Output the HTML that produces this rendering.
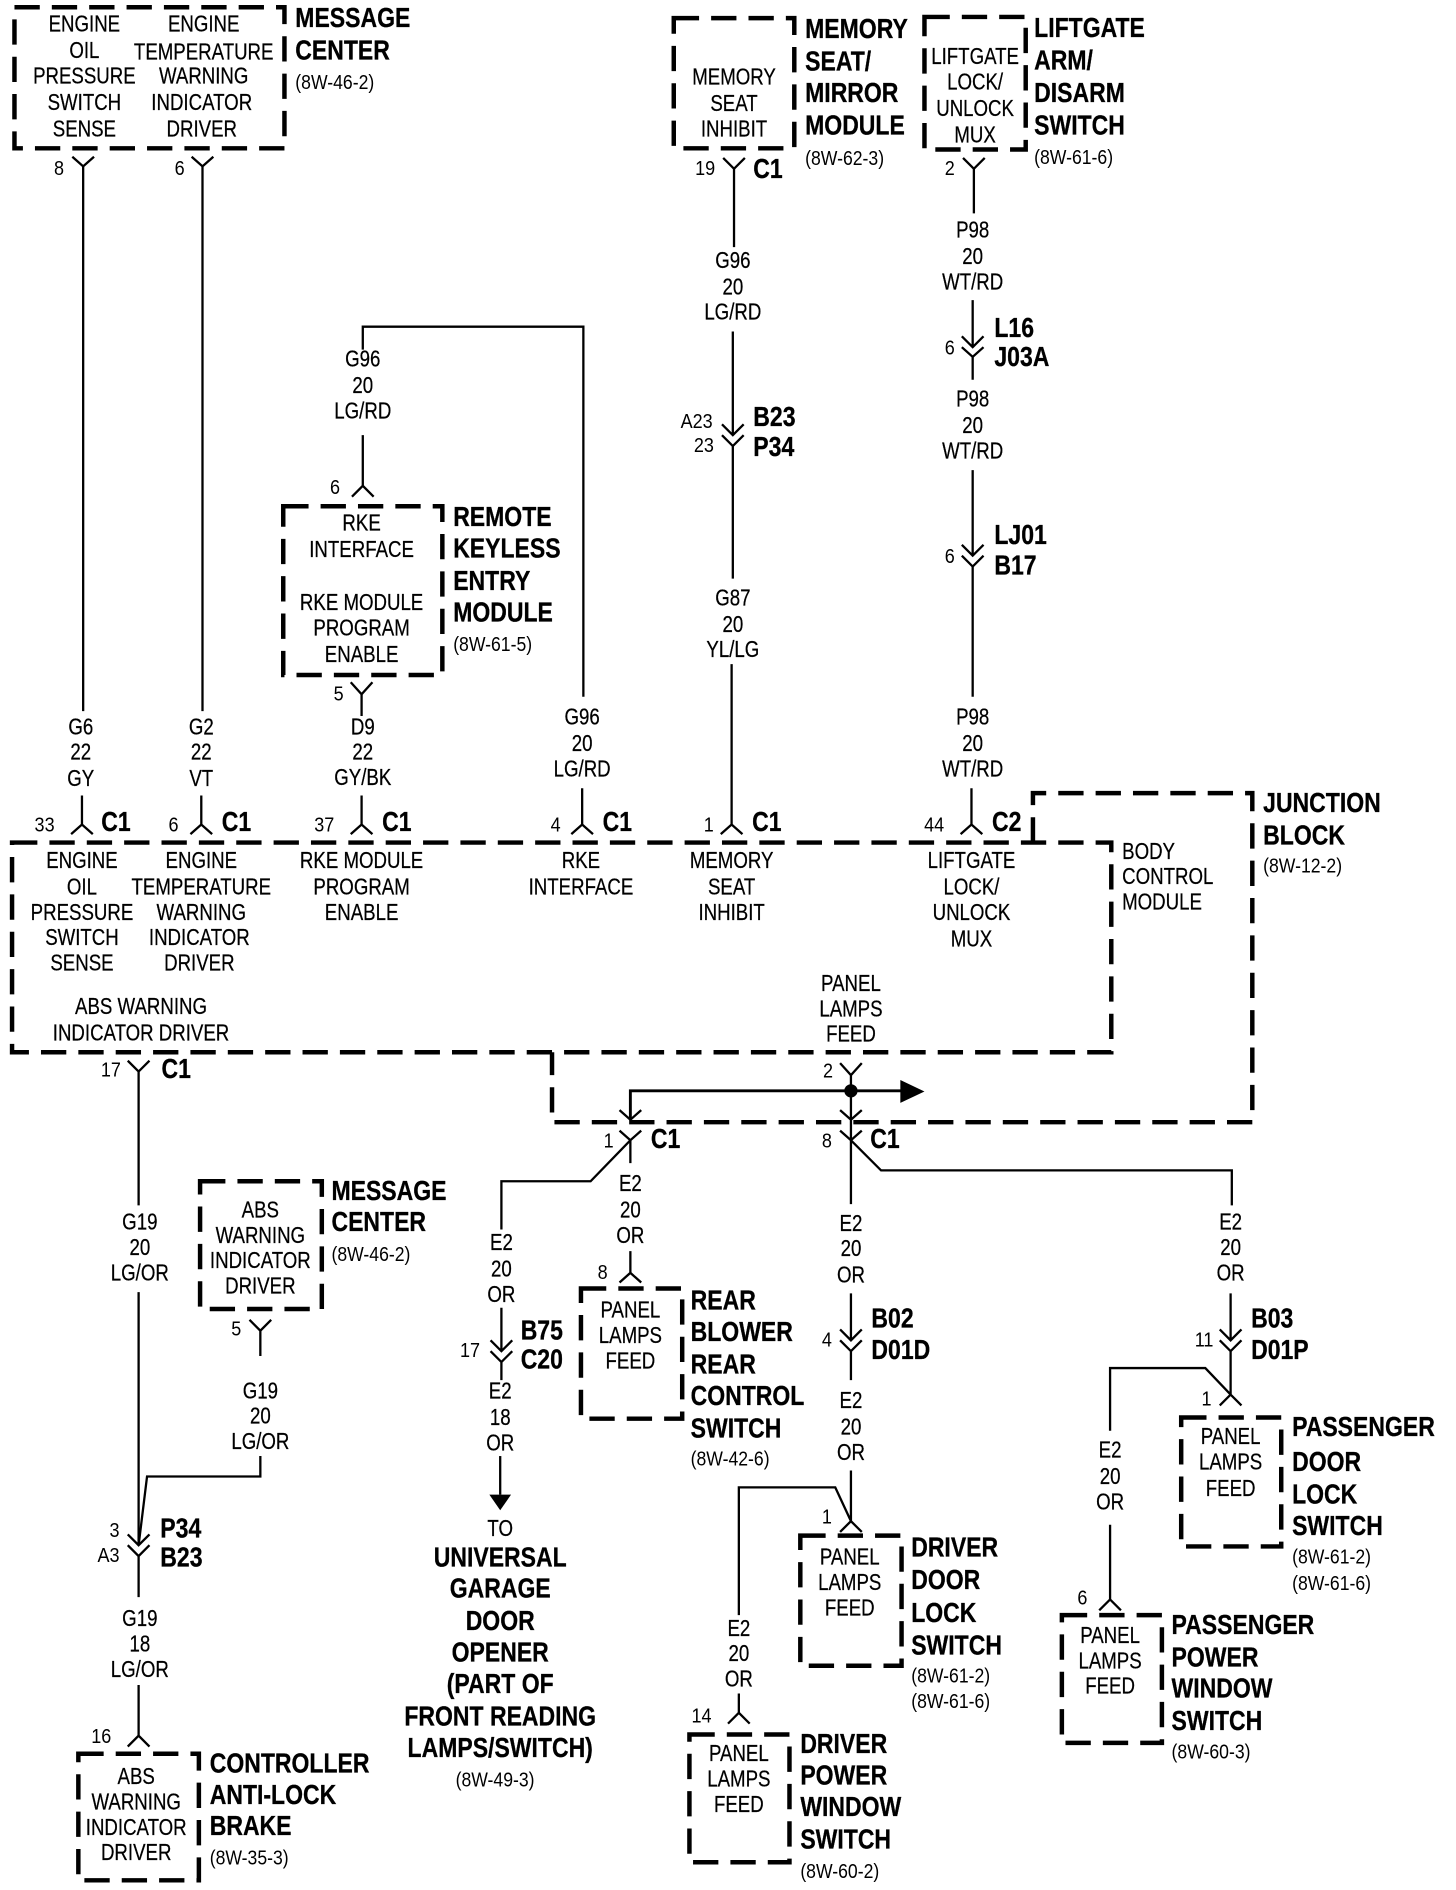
<!DOCTYPE html>
<html><head><meta charset="utf-8"><title>Wiring diagram</title>
<style>
html,body{margin:0;padding:0;background:#fff}
svg{display:block}
text{font-family:"Liberation Sans",sans-serif;fill:#000}
.r text{font-size:19px;text-anchor:middle;stroke:#000;stroke-width:.2;transform:translateY(-.8px)}
.l text{font-size:19px;text-anchor:start;stroke:#000;stroke-width:.2;transform:translateY(-.5px)}
.b text{font-size:23px;font-weight:bold;text-anchor:start;stroke:#000;stroke-width:.25;transform:translateY(-1.5px)}
.bc text{font-size:23px;font-weight:bold;text-anchor:middle;stroke:#000;stroke-width:.25;transform:translateY(-1.5px)}
.s text{font-size:17px;text-anchor:start}
.sc text{font-size:17px;text-anchor:middle;transform-box:fill-box;transform-origin:center;transform:scaleX(.88)}
.d{fill:none;stroke:#000;stroke-width:3.7;stroke-dasharray:21 10}
.w{fill:none;stroke:#000;stroke-width:1.9}
</style></head><body>
<svg xmlns="http://www.w3.org/2000/svg" width="1456" height="1890" viewBox="0 0 1208 1568">
<rect width="1208" height="1568" fill="#fff"/>

<!-- dashed boxes -->
<path class="d" d="M12 6H236V123H12Z"/>
<path class="d" d="M559 15H659V123H559Z"/>
<path class="d" d="M767 14H851V124H767Z"/>
<path class="d" d="M235 420H367V560H235Z"/>
<path class="d" d="M10 699H922V873H10Z"/>
<path class="d" d="M857 699V658H1039V931H458V873"/>
<path class="d" d="M166 980H267V1086H166Z"/>
<path class="d" d="M482 1069H566V1177H482Z"/>
<path class="d" d="M664 1274H748V1382H664Z"/>
<path class="d" d="M980 1176H1063V1283H980Z"/>
<path class="d" d="M881 1340H964V1446H881Z"/>
<path class="d" d="M572 1439H655V1545H572Z"/>
<path class="d" d="M65 1455H165V1560H65Z"/>

<!-- wires and connector marks -->
<g class="w">
<path d="M69 138V590M60 130l9 8 9-8"/>
<path d="M168 138V590M159 130l9 8 9-8"/>
<path d="M68 660V684M59 692l9-8 9 8"/>
<path d="M167 660V684M158 692l9-8 9 8"/>
<path d="M300 660V684M291 692l9-8 9 8"/>
<path d="M483 654V684M474 692l9-8 9 8"/>
<path d="M607 551V684M598 692l9-8 9 8"/>
<path d="M806 654V684M797 692l9-8 9 8"/>
<path d="M301 290V271H484V578"/>
<path d="M301 361V403M292 412l9-9 9 9"/>
<path d="M300 576V594M291 566l9 10 9-10"/>
<path d="M609 140V205M600 131l9 9 9-9"/>
<path d="M608 275V361M599 352l9 9 9-9M599 361l9 9 9-9M608 370V480"/>
<path d="M808 140V177M799 131l9 9 9-9"/>
<path d="M807 249V288M798 279l9 9 9-9M798 288l9 8 9-8M807 296V315"/>
<path d="M807 390V461M798 452l9 9 9-9M798 461l9 9 9-9M807 470V578"/>
<path d="M115 889V1000M106 880l9 9 9-9"/>
<path d="M115 1072V1282M106 1273l9 9 9-9M106 1282l9 9 9-9M115 1291V1325"/>
<path d="M216 1104V1125M207 1095l9 9 9-9"/>
<path d="M216 1208V1225H122L115 1282"/>
<path d="M115 1398V1440M106 1449l9-9 9 9"/>
<path d="M706 892V946M697 882l9 10 9-10M697 921l9 8 9-8"/>
<path d="M523 929V905H750" style="stroke-width:2.4"/>
<path d="M514 921l9 8 9-8"/>
<path d="M514 938l9 8 9-8M523 946V965M523 946L490 980H416V1020"/>
<path d="M697 938l9 8 9-8M706 946V999M706 946L731 971H1022V1000"/>
<path d="M523 1038V1056M514 1064l9-8 9 8"/>
<path d="M416 1085V1121M407 1112l9 9 9-9M407 1121l9 9 9-9M416 1130V1145"/>
<path d="M415 1208V1240"/>
<path d="M706 1073V1112M697 1103l9 9 9-9M697 1112l9 9 9-9M706 1121V1145"/>
<path d="M706 1220V1262M697 1271l9-9 9 9M706 1262L693 1234H613V1340"/>
<path d="M613 1405V1421M604 1430l9-9 9 9"/>
<path d="M1021 1073V1112M1012 1103l9 9 9-9M1012 1112l9 9 9-9M1021 1121V1157M1012 1166l9-9 9 9M1021 1157L1000 1135H921V1187"/>
<path d="M921 1265V1327M912 1336l9-9 9 9"/>
</g>
<circle cx="706" cy="905" r="5.5"/>
<path d="M747 896L767 905.500 747 915Z"/>
<path d="M406 1240H424L415 1253Z"/>

<!-- box and module text -->
<g class="r" transform="translate(70,0) scale(.815,1)"><text y="27">ENGINE</text><text y="49">OIL</text><text y="70">PRESSURE</text><text y="92">SWITCH</text><text y="114">SENSE</text></g>
<g class="r" transform="translate(169,0) scale(.815,1)"><text y="27">ENGINE</text><text y="50">TEMPERATURE</text><text y="70">WARNING</text><text x="-2" y="92">INDICATOR</text><text x="-2" y="114">DRIVER</text></g>
<g class="r" transform="translate(609,0) scale(.815,1)"><text y="71">MEMORY</text><text y="93">SEAT</text><text y="114">INHIBIT</text></g>
<g class="r" transform="translate(809,0) scale(.815,1)"><text y="54">LIFTGATE</text><text y="75">LOCK/</text><text y="97">UNLOCK</text><text y="119">MUX</text></g>
<g class="r" transform="translate(300,0) scale(.815,1)"><text y="441">RKE</text><text y="463">INTERFACE</text><text y="507">RKE MODULE</text><text y="528">PROGRAM</text><text y="550">ENABLE</text></g>
<g class="r" transform="translate(68,0) scale(.815,1)"><text y="721">ENGINE</text><text y="743">OIL</text><text y="764">PRESSURE</text><text y="785">SWITCH</text><text y="806">SENSE</text></g>
<g class="r" transform="translate(167,0) scale(.815,1)"><text y="721">ENGINE</text><text y="743">TEMPERATURE</text><text y="764">WARNING</text><text x="-2" y="785">INDICATOR</text><text x="-2" y="806">DRIVER</text></g>
<g class="r" transform="translate(300,0) scale(.815,1)"><text y="721">RKE MODULE</text><text y="743">PROGRAM</text><text y="764">ENABLE</text></g>
<g class="r" transform="translate(482,0) scale(.815,1)"><text y="721">RKE</text><text y="743">INTERFACE</text></g>
<g class="r" transform="translate(607,0) scale(.815,1)"><text y="721">MEMORY</text><text y="743">SEAT</text><text y="764">INHIBIT</text></g>
<g class="r" transform="translate(806,0) scale(.815,1)"><text y="721">LIFTGATE</text><text y="743">LOCK/</text><text y="764">UNLOCK</text><text y="786">MUX</text></g>
<g class="r" transform="translate(117,0) scale(.815,1)"><text y="842">ABS WARNING</text><text y="864">INDICATOR DRIVER</text></g>
<g class="r" transform="translate(706,0) scale(.815,1)"><text y="823">PANEL</text><text y="844">LAMPS</text><text y="865">FEED</text></g>
<g class="l" transform="translate(931,0) scale(.815,1)"><text y="713">BODY</text><text y="734">CONTROL</text><text y="755">MODULE</text></g>
<g class="r" transform="translate(216,0) scale(.815,1)"><text y="1011">ABS</text><text y="1032">WARNING</text><text y="1053">INDICATOR</text><text y="1074">DRIVER</text></g>
<g class="r" transform="translate(113,0) scale(.815,1)"><text y="1481">ABS</text><text y="1502">WARNING</text><text y="1523">INDICATOR</text><text y="1544">DRIVER</text></g>
<g class="r" transform="translate(523,0) scale(.815,1)"><text y="1094">PANEL</text><text y="1115">LAMPS</text><text y="1136">FEED</text></g>
<g class="r" transform="translate(705,0) scale(.815,1)"><text y="1299">PANEL</text><text y="1320">LAMPS</text><text y="1341">FEED</text></g>
<g class="r" transform="translate(1021,0) scale(.815,1)"><text y="1199">PANEL</text><text y="1220">LAMPS</text><text y="1242">FEED</text></g>
<g class="r" transform="translate(921,0) scale(.815,1)"><text y="1364">PANEL</text><text y="1385">LAMPS</text><text y="1406">FEED</text></g>
<g class="r" transform="translate(613,0) scale(.815,1)"><text y="1462">PANEL</text><text y="1483">LAMPS</text><text y="1504">FEED</text></g>

<!-- wire labels -->
<g class="r" transform="translate(67,0) scale(.815,1)"><text y="610">G6</text><text y="631">22</text><text y="653">GY</text></g>
<g class="r" transform="translate(167,0) scale(.815,1)"><text y="610">G2</text><text y="631">22</text><text y="653">VT</text></g>
<g class="r" transform="translate(301,0) scale(.815,1)"><text y="610">D9</text><text y="631">22</text><text y="652">GY/BK</text></g>
<g class="r" transform="translate(483,0) scale(.815,1)"><text y="602">G96</text><text y="624">20</text><text y="645">LG/RD</text></g>
<g class="r" transform="translate(301,0) scale(.815,1)"><text y="305">G96</text><text y="327">20</text><text y="348">LG/RD</text></g>
<g class="r" transform="translate(608,0) scale(.815,1)"><text y="223">G96</text><text y="245">20</text><text y="266">LG/RD</text></g>
<g class="r" transform="translate(608,0) scale(.815,1)"><text y="503">G87</text><text y="525">20</text><text y="546">YL/LG</text></g>
<g class="r" transform="translate(807,0) scale(.815,1)"><text y="198">P98</text><text y="220">20</text><text y="241">WT/RD</text></g>
<g class="r" transform="translate(807,0) scale(.815,1)"><text y="338">P98</text><text y="360">20</text><text y="381">WT/RD</text></g>
<g class="r" transform="translate(807,0) scale(.815,1)"><text y="602">P98</text><text y="624">20</text><text y="645">WT/RD</text></g>
<g class="r" transform="translate(416,0) scale(.815,1)"><text y="1038">E2</text><text y="1060">20</text><text y="1081">OR</text></g>
<g class="r" transform="translate(523,0) scale(.815,1)"><text y="989">E2</text><text y="1011">20</text><text y="1032">OR</text></g>
<g class="r" transform="translate(706,0) scale(.815,1)"><text y="1022">E2</text><text y="1043">20</text><text y="1065">OR</text></g>
<g class="r" transform="translate(706,0) scale(.815,1)"><text y="1169">E2</text><text y="1191">20</text><text y="1212">OR</text></g>
<g class="r" transform="translate(1021,0) scale(.815,1)"><text y="1021">E2</text><text y="1042">20</text><text y="1063">OR</text></g>
<g class="r" transform="translate(921,0) scale(.815,1)"><text y="1210">E2</text><text y="1232">20</text><text y="1253">OR</text></g>
<g class="r" transform="translate(613,0) scale(.815,1)"><text y="1358">E2</text><text y="1379">20</text><text y="1400">OR</text></g>
<g class="r" transform="translate(415,0) scale(.815,1)"><text y="1161">E2</text><text y="1183">18</text><text y="1204">OR</text><text y="1275">TO</text></g>
<g class="r" transform="translate(116,0) scale(.815,1)"><text y="1021">G19</text><text y="1042">20</text><text y="1063">LG/OR</text></g>
<g class="r" transform="translate(216,0) scale(.815,1)"><text y="1161">G19</text><text y="1182">20</text><text y="1203">LG/OR</text></g>
<g class="r" transform="translate(116,0) scale(.815,1)"><text y="1350">G19</text><text y="1371">18</text><text y="1392">LG/OR</text></g>

<!-- pin numbers -->
<g class="sc">
<text x="49" y="145">8</text><text x="149" y="145">6</text><text x="585" y="145">19</text><text x="788" y="145">2</text>
<text x="788" y="294">6</text><text x="578" y="355">A23</text><text x="584" y="375">23</text><text x="788" y="467">6</text>
<text x="278" y="410">6</text><text x="281" y="581">5</text>
<text x="37" y="690">33</text><text x="144" y="690">6</text><text x="269" y="690">37</text><text x="461" y="690">4</text><text x="588" y="690">1</text><text x="775" y="690">44</text>
<text x="92" y="893">17</text><text x="687" y="894">2</text><text x="505" y="952">1</text><text x="686" y="952">8</text>
<text x="500" y="1061">8</text><text x="390" y="1126">17</text><text x="686" y="1117">4</text><text x="999" y="1117">11</text>
<text x="196" y="1108">5</text><text x="95" y="1275">3</text><text x="90" y="1296">A3</text><text x="84" y="1446">16</text>
<text x="686" y="1264">1</text><text x="582" y="1429">14</text><text x="1001" y="1166">1</text><text x="898" y="1331">6</text>
</g>

<!-- bold labels -->
<g class="b" transform="translate(245,0) scale(.83,1)"><text y="24">MESSAGE</text><text y="51">CENTER</text></g>
<g class="b" transform="translate(668,0) scale(.83,1)"><text y="33">MEMORY</text><text y="60">SEAT/</text><text y="86">MIRROR</text><text y="113">MODULE</text></g>
<g class="b" transform="translate(858,0) scale(.83,1)"><text y="32">LIFTGATE</text><text y="59">ARM/</text><text y="86">DISARM</text><text y="113">SWITCH</text></g>
<g class="b" transform="translate(376,0) scale(.83,1)"><text y="438">REMOTE</text><text y="464">KEYLESS</text><text y="491">ENTRY</text><text y="517">MODULE</text></g>
<g class="b" transform="translate(1048,0) scale(.83,1)"><text y="675">JUNCTION</text><text y="702">BLOCK</text></g>
<g class="b" transform="translate(275,0) scale(.83,1)"><text y="997">MESSAGE</text><text y="1023">CENTER</text></g>
<g class="b" transform="translate(573,0) scale(.83,1)"><text y="1088">REAR</text><text y="1114">BLOWER</text><text y="1141">REAR</text><text y="1167">CONTROL</text><text y="1194">SWITCH</text></g>
<g class="b" transform="translate(756,0) scale(.83,1)"><text y="1293">DRIVER</text><text y="1320">DOOR</text><text y="1347">LOCK</text><text y="1374">SWITCH</text></g>
<g class="b" transform="translate(664,0) scale(.83,1)"><text y="1456">DRIVER</text><text y="1482">POWER</text><text y="1508">WINDOW</text><text y="1535">SWITCH</text></g>
<g class="b" transform="translate(1072,0) scale(.83,1)"><text y="1193">PASSENGER</text><text y="1222">DOOR</text><text y="1249">LOCK</text><text y="1275">SWITCH</text></g>
<g class="b" transform="translate(972,0) scale(.83,1)"><text y="1357">PASSENGER</text><text y="1384">POWER</text><text y="1410">WINDOW</text><text y="1437">SWITCH</text></g>
<g class="b" transform="translate(174,0) scale(.83,1)"><text y="1472">CONTROLLER</text><text y="1498">ANTI-LOCK</text><text y="1524">BRAKE</text></g>
<g class="bc" transform="translate(415,0) scale(.83,1)"><text y="1301">UNIVERSAL</text><text y="1327">GARAGE</text><text y="1354">DOOR</text><text y="1380">OPENER</text><text y="1406">(PART OF</text><text y="1433">FRONT READING</text><text y="1459">LAMPS/SWITCH)</text></g>

<!-- connector names -->
<g class="b" transform="translate(625,0) scale(.83,1)"><text y="149">C1</text><text y="355">B23</text><text y="380">P34</text></g>
<g class="b" transform="translate(825,0) scale(.83,1)"><text y="281">L16</text><text y="305">J03A</text><text y="453">LJ01</text><text y="478">B17</text></g>
<g class="b" transform="translate(84,0) scale(.83,1)"><text y="691">C1</text></g>
<g class="b" transform="translate(184,0) scale(.83,1)"><text y="691">C1</text></g>
<g class="b" transform="translate(317,0) scale(.83,1)"><text y="691">C1</text></g>
<g class="b" transform="translate(500,0) scale(.83,1)"><text y="691">C1</text></g>
<g class="b" transform="translate(624,0) scale(.83,1)"><text y="691">C1</text></g>
<g class="b" transform="translate(823,0) scale(.83,1)"><text y="691">C2</text></g>
<g class="b" transform="translate(134,0) scale(.83,1)"><text y="896">C1</text></g>
<g class="b" transform="translate(540,0) scale(.83,1)"><text y="954">C1</text></g>
<g class="b" transform="translate(722,0) scale(.83,1)"><text y="954">C1</text></g>
<g class="b" transform="translate(432,0) scale(.83,1)"><text y="1113">B75</text><text y="1137">C20</text></g>
<g class="b" transform="translate(723,0) scale(.83,1)"><text y="1103">B02</text><text y="1129">D01D</text></g>
<g class="b" transform="translate(1038,0) scale(.83,1)"><text y="1103">B03</text><text y="1129">D01P</text></g>
<g class="b" transform="translate(133,0) scale(.83,1)"><text y="1277">P34</text><text y="1301">B23</text></g>

<!-- page references -->
<g class="s" transform="translate(245,0) scale(.86,1)"><text y="74">(8W-46-2)</text></g>
<g class="s" transform="translate(668,0) scale(.86,1)"><text y="137">(8W-62-3)</text></g>
<g class="s" transform="translate(858,0) scale(.86,1)"><text y="136">(8W-61-6)</text></g>
<g class="s" transform="translate(376,0) scale(.86,1)"><text y="540">(8W-61-5)</text></g>
<g class="s" transform="translate(1048,0) scale(.86,1)"><text y="724">(8W-12-2)</text></g>
<g class="s" transform="translate(275,0) scale(.86,1)"><text y="1046">(8W-46-2)</text></g>
<g class="s" transform="translate(573,0) scale(.86,1)"><text y="1216">(8W-42-6)</text></g>
<g class="s" transform="translate(378,0) scale(.86,1)"><text y="1482">(8W-49-3)</text></g>
<g class="s" transform="translate(174,0) scale(.86,1)"><text y="1547">(8W-35-3)</text></g>
<g class="s" transform="translate(756,0) scale(.86,1)"><text y="1396">(8W-61-2)</text><text y="1417">(8W-61-6)</text></g>
<g class="s" transform="translate(664,0) scale(.86,1)"><text y="1558">(8W-60-2)</text></g>
<g class="s" transform="translate(1072,0) scale(.86,1)"><text y="1297">(8W-61-2)</text><text y="1319">(8W-61-6)</text></g>
<g class="s" transform="translate(972,0) scale(.86,1)"><text y="1459">(8W-60-3)</text></g>
</svg>
</body></html>
